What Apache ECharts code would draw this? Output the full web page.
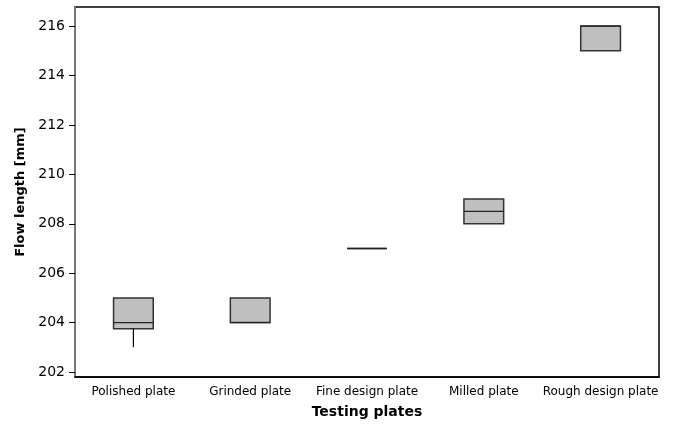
<!DOCTYPE html>
<html><head><meta charset="utf-8">
<script src="https://cdn.jsdelivr.net/npm/echarts@6/dist/echarts.min.js"></script>
<style>html,body{margin:0;padding:0;background:#fff}#c{width:678px;height:426px}</style>
</head><body><div id="c"></div>
<script>
var categories = ['Polished plate', 'Grinded plate', 'Fine design plate', 'Milled plate', 'Rough design plate'];
var mins    = [203, 204, 207, 208, 215];
var q1s     = [203.75, 204, 207, 208, 215];
var medians = [204, 204, 207, 208.5, 216];
var q3s     = [205, 205, 207, 209, 216];
var maxs    = [205, 205, 207, 209, 216];
var yTicks  = [202, 204, 206, 208, 210, 212, 214, 216];

var data = categories.map(function(c, i){ return [i, mins[i], q1s[i], medians[i], q3s[i], maxs[i]]; });
var FONT = 'DejaVu Sans';
var chart = echarts.init(document.getElementById('c'));
chart.setOption({
  animation: false,
  grid: {left: 75, right: 19, top: 7, bottom: 49, outerBoundsMode: 'none', containLabel: false,
    show: true, borderColor: '#000', borderWidth: 1.5, backgroundColor: '#fff'},
  xAxis: {
    type: 'category', data: categories, boundaryGap: true,
    name: 'Testing plates', nameLocation: 'middle', nameGap: 28,
    nameTextStyle: {fontFamily: FONT, fontWeight: 'bold', fontSize: 14, color: '#000'},
    axisLine: {lineStyle: {color: '#000', width: 1.5}},
    axisTick: {alignWithLabel: true, length: 5, lineStyle: {color: '#000'}},
    axisLabel: {fontFamily: FONT, fontSize: 12, color: '#000', margin: 9, interval: 0}
  },
  yAxis: {
    type: 'value', min: 201.8, max: 216.77,
    name: 'Flow length [mm]', nameLocation: 'middle', nameGap: 47,
    nameTextStyle: {fontFamily: FONT, fontWeight: 'bold', fontSize: 13, color: '#000'},
    axisLine: {show: true, lineStyle: {color: '#777', width: 2}},
    axisTick: {show: true, length: 6, customValues: yTicks, lineStyle: {color: '#000'}},
    axisLabel: {fontFamily: FONT, fontSize: 14, color: '#000', margin: 10,
      customValues: yTicks, formatter: function(v){ return String(v); }},
    splitLine: {show: false}
  },
  series: [{
    type: 'custom',
    data: data,
    encode: {x: 0, y: [1,2,3,4,5]},
    renderItem: function(params, api){
      var x = api.value(0);
      var pMin = api.coord([x, api.value(1)]);
      var pQ1 = api.coord([x, api.value(2)]);
      var pMed = api.coord([x, api.value(3)]);
      var pQ3 = api.coord([x, api.value(4)]);
      var pMax = api.coord([x, api.value(5)]);
      var hw = api.size([1, 0])[0] * 0.34 / 2;
      var cx = pQ1[0];
      var ls = {stroke: '#222', lineWidth: 1.3};
      var children = [];
      children.push({type: 'rect', shape: {x: cx - hw, y: pQ3[1], width: 2*hw, height: pQ1[1] - pQ3[1]},
        style: {fill: '#c0c0c0', stroke: '#333', lineWidth: 1.5}});
      children.push({type: 'line', shape: {x1: cx - hw, y1: pMed[1], x2: cx + hw, y2: pMed[1]}, style: ls});
      if (pMin[1] > pQ1[1] + 0.5) children.push({type: 'line', shape: {x1: cx, y1: pQ1[1], x2: cx, y2: pMin[1]}, style: {stroke: '#000', lineWidth: 1.2}});
      if (pMax[1] < pQ3[1] - 0.5) children.push({type: 'line', shape: {x1: cx, y1: pQ3[1], x2: cx, y2: pMax[1]}, style: {stroke: '#000', lineWidth: 1.2}});
      return {type: 'group', children: children};
    }
  }]
});
</script></body></html>
